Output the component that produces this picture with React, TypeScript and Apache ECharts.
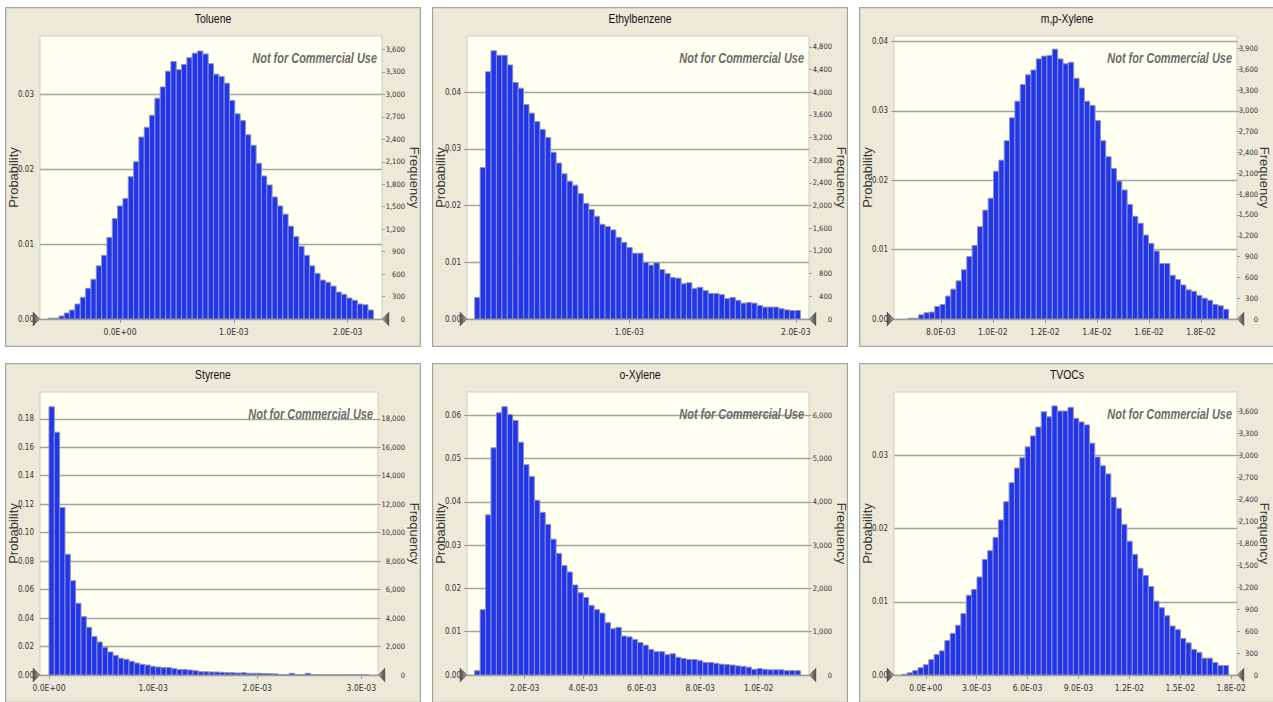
import React, { useEffect, useRef } from "react";
import * as echarts from "echarts";

// ---------------- DATA ----------------
const TRIALS = 100000;

const TITLES = ["Toluene", "Ethylbenzene", "m,p-Xylene", "Styrene", "o-Xylene", "TVOCs"];

// Toluene
const TOLUENE_PROB = [0.0001, 0.0001, 0.0004, 0.0008, 0.0012, 0.002, 0.0029, 0.0041, 0.0053, 0.0071, 0.0085, 0.0109, 0.0134, 0.0151, 0.0161, 0.019, 0.021, 0.0243, 0.0256, 0.0272, 0.0295, 0.031, 0.0331, 0.0344, 0.0333, 0.034, 0.0349, 0.0355, 0.0358, 0.0354, 0.0341, 0.0327, 0.0324, 0.0315, 0.0292, 0.0274, 0.0265, 0.0246, 0.0232, 0.0208, 0.0191, 0.0179, 0.0163, 0.0151, 0.014, 0.0124, 0.011, 0.0097, 0.0085, 0.0071, 0.0061, 0.0052, 0.0049, 0.0044, 0.0036, 0.0033, 0.0028, 0.0025, 0.002, 0.0019, 0.0012];
const TOLUENE_BINS = [-0.00063, 0.00004682]; // first bin start, bin width
const TOLUENE_X_RANGE = [-0.000703, 0.002302];
const TOLUENE_X_TICKS = [0, 0.001, 0.002];
const TOLUENE_PROB_MAX = 0.0378;
const TOLUENE_PROB_TICKS = [0, 0.01, 0.02, 0.03];
const TOLUENE_FREQ_TICKS = [0, 300, 600, 900, 1200, 1500, 1800, 2100, 2400, 2700, 3000, 3300, 3600];

// Ethylbenzene
const ETHYL_PROB = [0.0038, 0.0267, 0.0436, 0.0473, 0.0465, 0.0465, 0.0448, 0.0417, 0.0407, 0.0378, 0.0363, 0.0348, 0.0334, 0.032, 0.0294, 0.0275, 0.0256, 0.0243, 0.0236, 0.0221, 0.0204, 0.0193, 0.0181, 0.0167, 0.0163, 0.0157, 0.0144, 0.0135, 0.0126, 0.0116, 0.0116, 0.01, 0.0095, 0.0099, 0.0087, 0.008, 0.0073, 0.0072, 0.0062, 0.0064, 0.0054, 0.0056, 0.005, 0.0045, 0.0045, 0.0043, 0.0036, 0.0038, 0.0033, 0.0028, 0.0029, 0.0028, 0.0024, 0.0021, 0.0021, 0.0021, 0.0018, 0.0016, 0.0015, 0.0015];
const ETHYL_BINS = [0.0000738, 0.00003257];
const ETHYL_X_RANGE = [0.0000276, 0.002079];
const ETHYL_X_TICKS = [0.001, 0.002];
const ETHYL_PROB_MAX = 0.0499;
const ETHYL_PROB_TICKS = [0, 0.01, 0.02, 0.03, 0.04];
const ETHYL_FREQ_TICKS = [0, 400, 800, 1200, 1600, 2000, 2400, 2800, 3200, 3600, 4000, 4400, 4800];

// m,p-Xylene
const MPXYL_PROB = [0.0001, 0.0001, 0.0006, 0.0009, 0.001, 0.0018, 0.0021, 0.0033, 0.0043, 0.0055, 0.0071, 0.009, 0.0106, 0.0133, 0.0157, 0.0174, 0.0213, 0.0229, 0.0257, 0.029, 0.0314, 0.0338, 0.0352, 0.0359, 0.0375, 0.0379, 0.038, 0.0389, 0.0375, 0.0368, 0.037, 0.0347, 0.0333, 0.0314, 0.0308, 0.0286, 0.0257, 0.0234, 0.0217, 0.0199, 0.0186, 0.0165, 0.0148, 0.0138, 0.0121, 0.0109, 0.0098, 0.008, 0.008, 0.0063, 0.0057, 0.0049, 0.0042, 0.004, 0.0034, 0.003, 0.0027, 0.0021, 0.0019, 0.0014];
const MPXYL_BINS = [0.006741, 0.0002054];
const MPXYL_X_RANGE = [0.006202, 0.019386];
const MPXYL_X_TICKS = [0.008, 0.01, 0.012, 0.014, 0.016, 0.018];
const MPXYL_PROB_MAX = 0.0408;
const MPXYL_PROB_TICKS = [0, 0.01, 0.02, 0.03, 0.04];
const MPXYL_FREQ_TICKS = [0, 300, 600, 900, 1200, 1500, 1800, 2100, 2400, 2700, 3000, 3300, 3600, 3900];

// Styrene
const STYRENE_PROB = [0.1884, 0.1706, 0.1177, 0.0848, 0.0663, 0.0504, 0.041, 0.0335, 0.027, 0.0232, 0.0195, 0.0162, 0.0138, 0.0117, 0.011, 0.0096, 0.0084, 0.0075, 0.007, 0.0061, 0.0056, 0.0052, 0.0052, 0.0045, 0.0038, 0.0038, 0.0035, 0.003, 0.0023, 0.0023, 0.0021, 0.0021, 0.0019, 0.0016, 0.0016, 0.0014, 0.0016, 0.0012, 0.0012, 0.0012, 0.001, 0.0009, 0.0008, 0.0003, 0.0002, 0.0012, 0.0003, 0.0002, 0.0012, 0.0002, 0.0001, 0.0001, 0.0001, 0.0001, 0.0001, 0.0001, 0.0001, 0.0001, 0.0001, 0.0001];
const STYRENE_BINS = [0, 0.00005123];
const STYRENE_X_RANGE = [-0.0000864, 0.00316];
const STYRENE_X_TICKS = [0, 0.001, 0.002, 0.003];
const STYRENE_PROB_MAX = 0.1988;
const STYRENE_PROB_TICKS = [0, 0.02, 0.04, 0.06, 0.08, 0.1, 0.12, 0.14, 0.16, 0.18];
const STYRENE_FREQ_TICKS = [0, 2000, 4000, 6000, 8000, 10000, 12000, 14000, 16000, 18000];

// o-Xylene
const OXYL_PROB = [0.001, 0.0151, 0.037, 0.0525, 0.0606, 0.062, 0.0602, 0.0588, 0.0538, 0.0486, 0.0459, 0.0404, 0.0376, 0.0348, 0.0314, 0.0281, 0.0253, 0.0238, 0.0208, 0.019, 0.0179, 0.0161, 0.0151, 0.0143, 0.0121, 0.0107, 0.011, 0.009, 0.0088, 0.0082, 0.0075, 0.0069, 0.0059, 0.0054, 0.0054, 0.0047, 0.0049, 0.0041, 0.0038, 0.0036, 0.0036, 0.0033, 0.0029, 0.0029, 0.0027, 0.0025, 0.0024, 0.0023, 0.0021, 0.002, 0.0018, 0.0013, 0.0015, 0.0013, 0.0012, 0.0012, 0.0012, 0.001, 0.001, 0.001];
const OXYL_BINS = [0.00029, 0.0001856];
const OXYL_X_RANGE = [0.000027, 0.01172];
const OXYL_X_TICKS = [0.002, 0.004, 0.006, 0.008, 0.01];
const OXYL_PROB_MAX = 0.0654;
const OXYL_PROB_TICKS = [0, 0.01, 0.02, 0.03, 0.04, 0.05, 0.06];
const OXYL_FREQ_TICKS = [0, 1000, 2000, 3000, 4000, 5000, 6000];

// TVOCs
const TVOC_PROB = [0.0001, 0.0003, 0.0006, 0.001, 0.0014, 0.0021, 0.0028, 0.0033, 0.0047, 0.0057, 0.0068, 0.0084, 0.0109, 0.0117, 0.0134, 0.0158, 0.017, 0.0188, 0.0212, 0.0237, 0.0263, 0.0283, 0.0297, 0.0312, 0.0327, 0.0339, 0.036, 0.0353, 0.0368, 0.0361, 0.0361, 0.0366, 0.0351, 0.0346, 0.0342, 0.0317, 0.0298, 0.0286, 0.0275, 0.0243, 0.0228, 0.0206, 0.0183, 0.0165, 0.0146, 0.0136, 0.0121, 0.0101, 0.0092, 0.0081, 0.0067, 0.0062, 0.005, 0.0044, 0.0035, 0.0031, 0.0023, 0.0023, 0.0017, 0.0013, 0.0013];
const TVOC_BINS = [-0.001399, 0.0003155];
const TVOC_X_RANGE = [-0.001871, 0.01834];
const TVOC_X_TICKS = [0, 0.003, 0.006, 0.009, 0.012, 0.015, 0.018];
const TVOC_PROB_MAX = 0.0387;
const TVOC_PROB_TICKS = [0, 0.01, 0.02, 0.03];
const TVOC_FREQ_TICKS = [0, 300, 600, 900, 1200, 1500, 1800, 2100, 2400, 2700, 3000, 3300, 3600];

// ---------------- LAYOUT / STYLE ----------------
const PANEL_W = 416;
const PANEL_H = 340;
const PANEL_POS = [
  [5, 7],
  [432, 7],
  [859, 7],
  [5, 363],
  [432, 363],
  [859, 363],
];
const GRID_RIGHT = [39, 39, 38, 43, 39, 38];
const FREQ_NAME_GAP = [26, 26, 21, 30, 26, 21];
const FREQ_LABEL_MARGIN = [23, 23, 21, 27, 23, 21];
const GRID_LEFT = 35;
const GRID_TOP = 29;
const GRID_BOTTOM = 28;

const NARROW = "'Liberation Sans Narrow', 'Arial Narrow', 'DejaVu Sans Condensed', 'Liberation Sans', Arial, sans-serif";
const SANS = "'Liberation Sans', Arial, sans-serif";

const PANELS = [
  { prob: TOLUENE_PROB, bins: TOLUENE_BINS, xr: TOLUENE_X_RANGE, xt: TOLUENE_X_TICKS, pm: TOLUENE_PROB_MAX, pt: TOLUENE_PROB_TICKS, ft: TOLUENE_FREQ_TICKS },
  { prob: ETHYL_PROB, bins: ETHYL_BINS, xr: ETHYL_X_RANGE, xt: ETHYL_X_TICKS, pm: ETHYL_PROB_MAX, pt: ETHYL_PROB_TICKS, ft: ETHYL_FREQ_TICKS },
  { prob: MPXYL_PROB, bins: MPXYL_BINS, xr: MPXYL_X_RANGE, xt: MPXYL_X_TICKS, pm: MPXYL_PROB_MAX, pt: MPXYL_PROB_TICKS, ft: MPXYL_FREQ_TICKS },
  { prob: STYRENE_PROB, bins: STYRENE_BINS, xr: STYRENE_X_RANGE, xt: STYRENE_X_TICKS, pm: STYRENE_PROB_MAX, pt: STYRENE_PROB_TICKS, ft: STYRENE_FREQ_TICKS },
  { prob: OXYL_PROB, bins: OXYL_BINS, xr: OXYL_X_RANGE, xt: OXYL_X_TICKS, pm: OXYL_PROB_MAX, pt: OXYL_PROB_TICKS, ft: OXYL_FREQ_TICKS },
  { prob: TVOC_PROB, bins: TVOC_BINS, xr: TVOC_X_RANGE, xt: TVOC_X_TICKS, pm: TVOC_PROB_MAX, pt: TVOC_PROB_TICKS, ft: TVOC_FREQ_TICKS },
];

function expFmt(v: number): string {
  const s = Number(v).toExponential(1);
  const [m, e] = s.split("e");
  const sign = e[0] === "-" ? "-" : "+";
  const d = e.replace(/[+-]/, "").padStart(2, "0");
  return m + "E" + sign + d;
}
function thousands(v: number): string {
  return Math.round(v).toLocaleString("en-US");
}

function buildOption(idx: number) {
  const p = PANELS[idx];
  const gridRight = GRID_RIGHT[idx];
  const plotLeft = GRID_LEFT;
  const plotRight = PANEL_W - gridRight;
  const plotBottom = PANEL_H - GRID_BOTTOM;
  const data = p.prob.map((v, i) => [p.bins[0] + i * p.bins[1], p.bins[0] + (i + 1) * p.bins[1], v]);
  const step = p.pt[1] - p.pt[0];
  const triFill = new echarts.graphic.LinearGradient(0, 0, 1, 0, [
    { offset: 0, color: "#4a4a4a" },
    { offset: 1, color: "#a8a8a8" },
  ]);
  const triFillR = new echarts.graphic.LinearGradient(0, 0, 1, 0, [
    { offset: 0, color: "#a8a8a8" },
    { offset: 1, color: "#4a4a4a" },
  ]);
  return {
    animation: false,
    backgroundColor: "#ece9d8",
    grid: {
      left: GRID_LEFT,
      right: gridRight,
      top: GRID_TOP,
      bottom: GRID_BOTTOM,
      show: true,
      backgroundColor: "#fffff2",
      borderColor: "#cdcdc4",
      borderWidth: 1,
      containLabel: false,
      outerBoundsMode: "none",
    },
    xAxis: {
      type: "value",
      min: p.xr[0],
      max: p.xr[1],
      axisLine: { show: true, onZero: false, lineStyle: { color: "#9c9c9c", width: 1 } },
      axisTick: { show: true, length: 4, customValues: p.xt, lineStyle: { color: "#9c9c9c" } },
      axisLabel: { customValues: p.xt, formatter: expFmt, fontSize: 8.5, color: "#333", margin: 8, fontFamily: NARROW },
      splitLine: { show: false },
    },
    yAxis: [
      {
        type: "value",
        position: "left",
        min: 0,
        max: p.pm,
        interval: step,
        name: "Probability",
        nameLocation: "middle",
        nameGap: 20,
        nameMoveOverlap: false,
        nameTextStyle: { fontSize: 13, color: "#3a3a3a", fontFamily: SANS },
        axisLine: { show: false },
        axisTick: { show: true, length: 3, customValues: p.pt, lineStyle: { color: "#9c9c9c" } },
        axisLabel: { customValues: p.pt, formatter: (v: number) => v.toFixed(2), fontSize: 8, color: "#333", margin: 6, fontFamily: NARROW },
        splitLine: { show: true, lineStyle: { color: "#a4a49d", width: 1.4 } },
      },
      {
        type: "value",
        position: "right",
        min: 0,
        max: p.pm * TRIALS,
        interval: p.ft[1] - p.ft[0],
        name: "Frequency",
        nameLocation: "middle",
        nameRotate: -90,
        nameGap: FREQ_NAME_GAP[idx],
        nameMoveOverlap: false,
        nameTextStyle: { fontSize: 13, color: "#3a3a3a", fontFamily: SANS },
        axisLine: { show: false },
        axisTick: { show: true, length: 3, customValues: p.ft, lineStyle: { color: "#9c9c9c" } },
        axisLabel: {
          customValues: p.ft,
          formatter: thousands,
          fontSize: 7.5,
          color: "#333",
          margin: FREQ_LABEL_MARGIN[idx],
          align: "right",
          fontFamily: NARROW,
        },
        splitLine: { show: false },
      },
    ],
    series: [
      {
        type: "custom",
        xAxisIndex: 0,
        yAxisIndex: 0,
        data,
        encode: { x: [0, 1], y: 2 },
        clip: true,
        renderItem: (params: any, api: any) => {
          const a = api.coord([api.value(0), api.value(2)]);
          const b = api.coord([api.value(1), 0]);
          return {
            type: "rect",
            shape: { x: a[0], y: a[1], width: b[0] - a[0], height: b[1] - a[1] },
            style: { fill: "#1f35ef", stroke: "#9292b6", lineWidth: 1 },
          };
        },
      },
    ],
    graphic: [
      {
        type: "rect",
        z: 50,
        shape: { x: 0.5, y: 0.5, width: PANEL_W - 1, height: PANEL_H - 1 },
        style: { fill: "transparent", stroke: "#a6a6a0", lineWidth: 1.5 },
      },
      {
        type: "text",
        z: 50,
        x: PANEL_W / 2,
        y: 11,
        scaleX: 0.8,
        style: {
          text: TITLES[idx],
          fontSize: 13,
          fontFamily: SANS,
          fill: "#111",
          textAlign: "center",
          textVerticalAlign: "middle",
        },
      },
      {
        type: "text",
        z: 60,
        x: plotRight - 5,
        y: GRID_TOP + 22,
        scaleX: 0.73,
        style: {
          text: "Not for Commercial Use",
          fontSize: 15,
          fontWeight: "bold",
          fontStyle: "italic",
          fontFamily: SANS,
          fill: "#6c6c6c",
          textAlign: "right",
          textVerticalAlign: "middle",
        },
      },
      {
        type: "polygon",
        z: 100,
        shape: { points: [[plotLeft - 7, plotBottom - 7], [plotLeft, plotBottom], [plotLeft - 7, plotBottom + 7]] },
        style: { fill: triFill, stroke: "#555", lineWidth: 0.5 },
      },
      {
        type: "polygon",
        z: 100,
        shape: { points: [[plotRight + 7, plotBottom - 7], [plotRight, plotBottom], [plotRight + 7, plotBottom + 7]] },
        style: { fill: triFillR, stroke: "#777", lineWidth: 0.5 },
      },
    ],
  };
}

function Panel({ idx }: { idx: number }) {
  const ref = useRef<HTMLDivElement>(null);
  useEffect(() => {
    if (!ref.current) return;
    const chart = echarts.init(ref.current, null, { renderer: "svg" });
    chart.setOption(buildOption(idx) as any);
    return () => chart.dispose();
  }, [idx]);
  const [l, t] = PANEL_POS[idx];
  return <div ref={ref} style={{ position: "absolute", left: l, top: t, width: PANEL_W, height: PANEL_H }} />;
}

export default function App() {
  return (
    <div style={{ position: "fixed", left: 0, top: 0, width: 1273, height: 702, background: "#ffffff", overflow: "hidden" }}>
      {PANELS.map((_, i) => (
        <Panel key={i} idx={i} />
      ))}
    </div>
  );
}
